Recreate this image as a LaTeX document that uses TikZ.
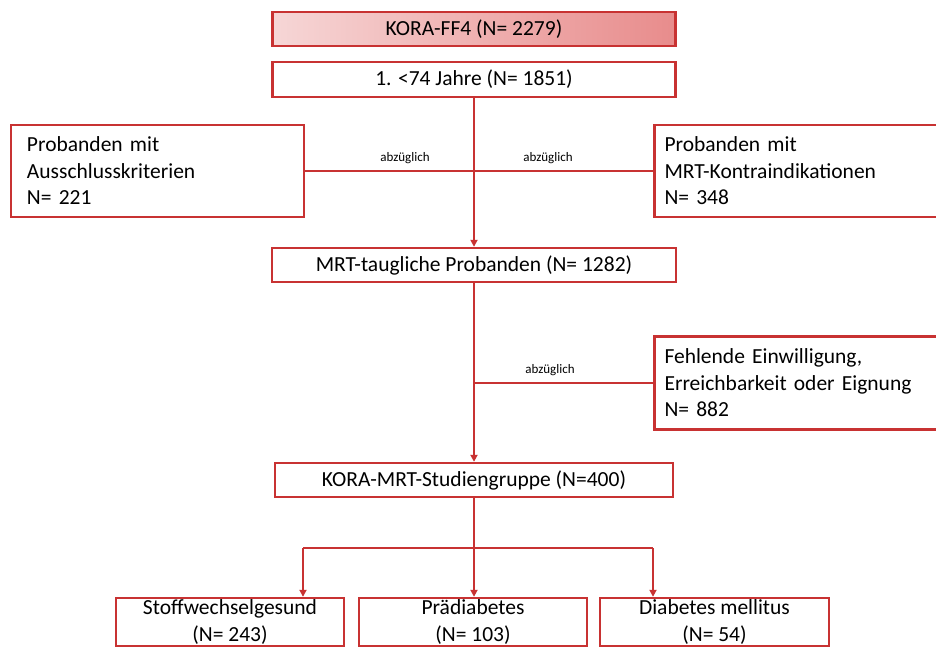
\documentclass[tikz,border=0pt]{standalone}
\usepackage{fontspec}
\setmainfont{Carlito}
\usetikzlibrary{arrows.meta}
\definecolor{lred}{RGB}{200,50,50}
\definecolor{shadeA}{RGB}{246,214,214}
\definecolor{shadeB}{RGB}{232,140,140}
\begin{document}
\begin{tikzpicture}[x=1pt,y=-1pt,
  box/.style={draw=lred, line width=2.4pt, rectangle, inner sep=0pt, align=center,
    font=\fontsize{21.5}{26.5}\selectfont},
  lbox/.style={box, align=left, inner xsep=16pt},
  conn/.style={draw=lred, line width=2.2pt},
  arr/.style={conn, -{Triangle[length=7pt,width=7pt]}},
  lab/.style={font=\fontsize{13}{15}\selectfont, inner sep=0pt}]
\useasboundingbox (0,0) rectangle (936,648);

\node[box, minimum width=403pt, minimum height=34pt, left color=shadeA, right color=shadeB] (ff4) at (474,29) {KORA-FF4 (N= 2279)};
\node[box, minimum width=403pt, minimum height=35pt] (age) at (474,79.5) {1. <74 Jahre (N= 1851)};
\node[lbox, minimum height=92pt, text width=261pt] (excl) at (157.5,171) {Probanden mit\\Ausschlusskriterien\\N= 221};
\node[lbox, minimum height=92pt, text width=264pt, inner xsep=10pt] (kontra) at (796.5,171) {Probanden mit\\MRT-Kontraindikationen\\N= 348};
\node[box, minimum width=404pt, minimum height=34pt] (mrt) at (474,265) {MRT-taugliche Probanden (N= 1282)};
\node[lbox, minimum height=93pt, text width=264pt, inner xsep=10pt] (fehl) at (796.5,383) {Fehlende Einwilligung,\\Erreichbarkeit oder Eignung\\N= 882};
\node[box, minimum width=398pt, minimum height=34pt] (study) at (474,480) {KORA-MRT-Studiengruppe (N=400)};
\node[box, minimum width=228pt, minimum height=48pt] (gesund) at (230,622) {Stoffwechselgesund\\(N= 243)};
\node[box, minimum width=228pt, minimum height=48pt] (pre) at (473,622) {Prädiabetes\\(N= 103)};
\node[box, minimum width=229pt, minimum height=48pt] (dm) at (714.5,622) {Diabetes mellitus\\(N= 54)};

\draw[arr] (age.south) -- (mrt.north);
\draw[conn] (excl.east) -- (kontra.west);
\node[lab] (l1) at (405,158) {abzüglich};
\node[lab] (l2) at (548,158) {abzüglich};

\draw[arr] (mrt.south) -- (study.north);
\draw[conn] (fehl.west) -- (fehl.west -| mrt.south);
\node[lab] (l3) at (550,370) {abzüglich};

\coordinate (br) at (474,548);
\coordinate (brl) at (303,548);
\coordinate (brr) at (653,548);
\draw[conn] (study.south) -- (br);
\draw[conn] (brl) -- (brr);
\draw[arr] (brl) -- (brl |- gesund.north);
\draw[arr] (br) -- (br |- pre.north);
\draw[arr] (brr) -- (brr |- dm.north);
\end{tikzpicture}
\end{document}
